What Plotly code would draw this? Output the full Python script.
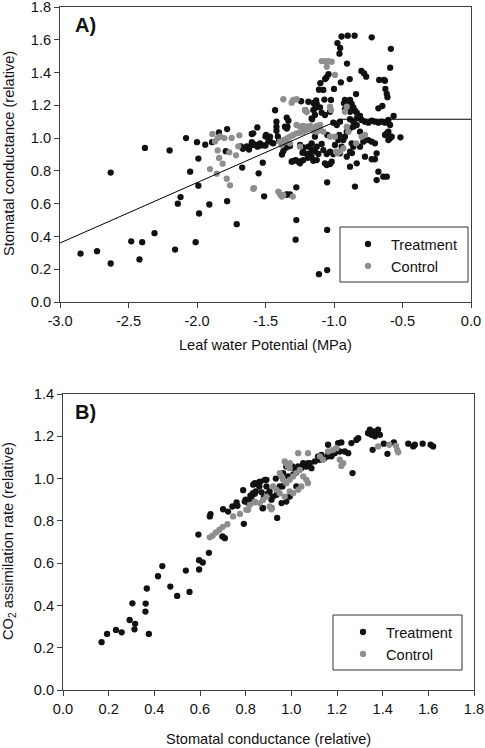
import plotly.graph_objects as go

# ---------------- Panel A: Leaf water potential vs stomatal conductance ----------------
a_treat = [
    (-2.85,0.295),(-2.73,0.31),(-2.63,0.235),(-2.63,0.79),(-2.48,0.37),(-2.40,0.365),(-2.42,0.26),
    (-2.38,0.94),(-2.31,0.42),(-2.20,0.925),(-2.16,0.32),(-2.14,0.60),(-2.12,0.64),(-2.08,1.00),
    (-2.05,0.795),(-2.01,0.365),(-2.00,0.975),(-1.99,0.71),(-1.99,0.875),(-1.985,0.54),(-1.94,0.96),
    (-1.91,0.595),(-1.89,0.975),(-1.84,1.035),(-1.78,1.055),(-1.79,0.92),(-1.78,0.615),(-1.71,0.475),
    (-1.68,0.95),(-1.67,0.82),(-1.665,0.935),(-1.60,1.025),(-1.60,0.975),(-1.62,0.93),(-1.56,1.065),
    (-1.55,0.785),(-1.52,0.85),(-1.51,0.645),(-1.50,1.01),(-1.58,0.96),(-1.54,0.955),(-1.50,0.955),
    (-1.47,0.985),(-1.45,0.97),(-1.43,1.17),(-1.42,1.10),(-1.42,1.07),(-1.42,1.045),(-1.41,1.01),
    (-1.40,0.985),(-1.345,1.125),(-1.34,1.07),(-1.345,0.655),(-1.36,0.94),(-1.38,0.90),(-1.37,0.92),
    (-1.30,0.86),(-1.28,0.865),(-1.275,0.70),(-1.275,0.50),(-1.28,0.38),(-1.24,1.225),(-1.24,0.86),
    (-1.23,0.91),(-1.21,1.17),(-1.19,0.88),(-1.16,1.115),(-1.15,1.215),(-1.14,1.18),(-1.13,1.23),
    (-1.11,1.295),(-1.10,1.335),(-1.11,0.17),(-1.05,0.195),(-1.05,0.44),(-1.05,0.73),(-1.07,1.235),
    (-1.065,1.36),(-1.055,1.37),(-1.04,1.39),(-1.00,1.30),(-0.975,1.58),(-0.96,1.515),(-0.955,1.55),
    (-0.945,1.62),(-0.90,1.625),(-0.85,1.625),(-0.725,1.615),(-0.905,1.455),(-0.95,1.34),(-0.885,1.36),
    (-0.80,1.41),(-0.78,1.395),(-0.765,1.375),(-0.67,1.355),(-0.635,1.355),(-0.625,1.30),(-0.615,1.27),
    (-0.61,1.25),(-0.585,1.545),(-0.59,1.43),(-0.565,1.135),(-0.515,1.005),
    (-0.920,1.233),(-0.907,1.222),(-0.883,1.233),(-0.927,1.212),(-0.912,1.196),(-0.895,1.188),
    (-0.871,1.208),(-0.859,1.188),(-0.847,1.167),(-0.883,1.161),(-0.920,1.175),(-0.834,1.155),
    (-0.810,1.135),(-0.839,1.269),(-1.022,1.233),(-1.078,1.294),(-1.126,1.208),(-1.151,1.171),
    (-1.102,1.188),(-1.090,1.155),(-1.163,1.121),(-1.139,1.141),(-1.066,1.141),(-1.029,1.161),
    (-1.187,1.222),(-1.333,1.106),(-1.358,1.070),(-1.345,1.058),
    (-0.883,1.115),(-0.859,1.100),(-0.834,1.121),(-0.798,1.111),(-0.774,1.100),(-0.749,1.094),
    (-0.725,1.106),(-0.701,1.100),(-0.676,1.094),(-0.652,1.100),(-0.628,1.094),(-0.603,1.111),
    (-0.591,1.080),(-0.859,1.070),(-0.834,1.080),(-0.883,1.060),(-0.956,1.100),(-0.980,1.080),
    (-1.005,1.094),(-0.676,1.182),(-0.647,1.196),(-0.628,1.350),
    (-1.248,0.958),(-1.224,0.944),(-1.187,0.948),(-1.163,0.932),(-1.126,0.948),(-1.090,0.964),
    (-1.321,0.952),(-1.345,0.944),(-1.370,0.968),(-1.224,0.917),(-1.199,0.903),(-1.175,0.907),
    (-1.139,0.917),(-1.114,0.903),(-1.078,0.927),(-1.053,0.903),(-1.029,0.917),(-1.005,0.903),
    (-1.309,0.856),(-1.260,0.856),(-1.248,0.846),(-1.224,0.866),(-1.187,0.887),(-1.163,0.883),
    (-1.151,0.862),(-1.126,0.866),(-1.066,0.846),(-1.053,0.836),(-1.029,0.842),(-1.017,0.856),
    (-0.956,0.907),(-0.944,0.948),(-0.932,0.988),(-0.883,0.917),(-0.871,0.968),(-0.859,0.948),
    (-0.883,0.826),(-0.834,0.846),(-0.786,0.978),(-0.774,0.988),(-0.749,0.988),(-0.725,0.978),
    (-0.701,0.968),(-0.689,0.907),(-0.701,0.871),(-0.725,0.871),(-0.689,0.744),(-0.676,0.795),
    (-0.640,0.765),(-0.615,0.765),(-0.628,1.019),(-0.615,1.029),(-0.603,1.039),(-0.591,0.999),
    (-0.579,1.009),(-0.603,0.988),(-0.847,0.704),(-1.345,0.657),(-1.321,0.657),
    (-1.589,1.029),(-1.496,1.019),(-1.467,1.009),(-1.443,0.968),(-1.540,0.968),(-1.559,0.948),
    (-1.601,0.958),(-0.993,0.958),(-0.968,0.988),(-0.920,1.009),(-0.810,1.039),(-0.810,0.948),
    (-0.774,0.887),(-0.907,0.887),(-0.907,1.039),(-0.961,1.019),(-1.049,1.019),(-1.139,1.009),
    (-1.163,0.968),(-0.869,0.909),(-1.637,0.95),(-1.577,0.96),(-1.516,0.956),(-1.479,0.98),
]
a_ctrl = [
    (-1.905,0.811),(-1.888,1.025),(-1.869,0.98),(-1.85,1.00),(-1.83,1.01),(-1.849,0.925),(-1.839,0.879),
    (-1.856,0.783),(-1.813,0.844),(-1.80,1.00),(-1.783,0.752),(-1.759,0.712),(-1.764,0.913),
    (-1.747,1.001),(-1.715,0.895),(-1.698,0.950),(-1.691,1.017),(-1.589,0.691),
    (-1.090,1.470),(-1.066,1.470),(-1.041,1.470),(-1.017,1.466),(-1.053,1.436),(-0.993,1.385),
    (-1.029,1.192),(-1.022,1.171),(-0.907,1.192),(-0.920,1.161),(-1.297,1.233),(-1.309,1.216),
    (-1.370,1.237),(-1.273,1.237),(-1.212,1.171),(-1.199,1.159),
    (-1.273,1.080),(-1.248,1.070),(-1.224,1.074),(-1.199,1.070),(-1.175,1.074),(-1.151,1.066),
    (-1.126,1.074),(-1.102,1.080),
    (-1.370,0.988),(-1.358,0.978),(-1.345,0.999),(-1.321,1.009),(-1.297,1.019),(-1.273,1.029),
    (-1.248,1.033),(-1.224,1.039),(-1.199,1.050),(-1.175,1.060),(-1.151,1.045),(-1.126,1.039),
    (-1.102,1.050),(-1.078,1.039),(-1.394,0.978),(-1.382,0.958),(-1.321,0.968),(-1.248,0.948),
    (-0.985,0.917),(-0.976,0.907),(-0.956,0.917),(-0.932,0.937),(-0.839,0.968),(-0.774,1.019),
    (-0.798,1.009),(-0.895,1.039),(-0.907,1.070),(-0.993,1.009),(-1.029,1.009),
    (-1.584,0.694),(-1.406,0.673),(-1.394,0.657),(-1.382,0.643),(-1.370,0.653),(-1.301,0.643),
]
a_treat_x = [p[0] for p in a_treat]
a_treat_y = [p[1] for p in a_treat]
a_ctrl_x = [p[0] for p in a_ctrl]
a_ctrl_y = [p[1] for p in a_ctrl]

# broken-stick fit
fit_x = [-3.0, -0.95, 0.0]
fit_y = [0.36, 1.115, 1.115]

a_xticks = [-3.0, -2.5, -2.0, -1.5, -1.0, -0.5, 0.0]
a_xticklabels = ["-3.0", "-2.5", "-2.0", "-1.5", "-1.0", "-0.5", "0.0"]
a_yticks = [0.0, 0.2, 0.4, 0.6, 0.8, 1.0, 1.2, 1.4, 1.6, 1.8]
a_yticklabels = ["0.0", "0.2", "0.4", "0.6", "0.8", "1.0", "1.2", "1.4", "1.6", "1.8"]

# ---------------- Panel B: stomatal conductance vs CO2 assimilation ----------------
b_treat = [
    (0.169,0.226),(0.193,0.265),(0.232,0.284),(0.257,0.273),(0.292,0.331),(0.304,0.410),(0.316,0.313),
    (0.313,0.287),(0.362,0.409),(0.361,0.371),(0.367,0.480),(0.376,0.265),(0.416,0.538),(0.435,0.586),
    (0.470,0.489),(0.500,0.445),(0.538,0.565),(0.554,0.464),(0.593,0.735),(0.596,0.570),(0.596,0.614),
    (0.612,0.603),(0.639,0.649),(0.646,0.832),(0.643,0.821),(0.698,0.726),(0.709,0.718),(0.701,0.855),
    (0.723,0.844),(0.742,0.868),(0.760,0.887),(0.764,0.871),(0.789,0.945),(0.792,0.786),(0.800,0.900),
    (0.811,0.884),(0.821,0.919),(0.833,0.971),(0.840,0.928),(0.850,0.975),(0.859,0.983),(0.86,0.962),
    (0.87,0.935),(0.88,0.912),(0.874,0.860),(0.891,0.994),(0.898,0.93),(0.913,0.900),(0.938,0.814),
    (0.840,0.978),(0.854,0.975),(0.865,0.986),(0.832,0.931),(0.844,0.939),(0.825,0.907),(0.796,0.891),
    (0.884,0.994),(0.891,0.963),(0.905,0.939),(0.920,0.915),(0.935,0.923),(0.913,0.860),(0.876,0.860),
    (0.964,1.026),(0.986,1.010),(0.978,1.057),(1.008,1.049),(1.030,1.057),(1.052,1.073),(1.066,1.057),
    (1.081,1.073),(1.088,1.049),(1.103,1.081),(1.117,1.105),(1.132,1.112),(1.146,1.097),(1.161,1.112),
    (1.176,1.105),(1.190,1.120),(1.205,1.168),(1.219,1.171),(1.212,1.128),(1.234,1.128),(1.249,1.120),
    (1.263,1.168),(1.285,1.183),(1.293,1.191),(1.268,1.026),(1.161,1.160),
    (0.949,0.963),(0.993,0.915),(1.022,0.963),(0.978,0.891),(0.957,0.884),
    (0.932,1.000),(0.961,0.963),(1.005,1.057),(1.008,1.018),(1.023,1.034),(1.045,1.050),
    (1.074,1.073),(1.125,1.089),(1.162,1.105),
    (1.336,1.215),(1.344,1.231),(1.358,1.223),(1.373,1.218),(1.388,1.207),(1.366,1.200),(1.351,1.207),
    (1.337,1.215),(1.380,1.231),(1.356,1.136),(1.405,1.165),(1.421,1.117),(1.449,1.171),(1.512,1.165),
    (1.534,1.152),(1.541,1.160),(1.575,1.165),(1.610,1.160),(1.621,1.152),
]
b_ctrl = [
    (0.643,0.722),(0.655,0.730),(0.670,0.745),(0.685,0.758),(0.700,0.772),(0.720,0.784),(0.745,0.821),
    (0.775,0.833),(0.811,0.852),(0.840,0.887),
    (1.030,1.120),(1.073,1.120),(0.971,1.081),(0.978,1.070),(0.986,1.060),(0.993,1.049),(0.949,1.026),
    (0.957,1.010),(0.964,0.994),(0.978,0.978),(0.993,0.994),(1.008,1.010),(1.022,1.026),(1.037,1.041),
    (1.052,1.010),(1.066,0.994),(1.073,0.978),(0.920,0.963),(0.935,0.947),(0.949,0.931),(0.971,0.915),
    (0.993,0.939),(1.008,0.931),(1.030,0.947),(1.044,0.963),(0.862,0.884),(0.876,0.899),(0.891,0.915),
    (0.905,0.868),(0.913,0.855),(0.803,0.852),(0.818,0.876),(0.840,0.891),(1.212,1.089),(1.227,1.073),
    (1.219,1.060),(1.125,1.105),(1.139,1.089),(1.161,1.128),(1.183,1.136),(1.198,1.144),
    (0.986,1.057),(0.994,1.073),
    (1.380,1.152),(1.429,1.160),(1.458,1.155),(1.464,1.136),(1.468,1.124),
]
b_treat_x = [p[0] for p in b_treat]
b_treat_y = [p[1] for p in b_treat]
b_ctrl_x = [p[0] for p in b_ctrl]
b_ctrl_y = [p[1] for p in b_ctrl]

b_xticks = [0.0, 0.2, 0.4, 0.6, 0.8, 1.0, 1.2, 1.4, 1.6, 1.8]
b_xticklabels = ["0.0", "0.2", "0.4", "0.6", "0.8", "1.0", "1.2", "1.4", "1.6", "1.8"]
b_yticks = [0.0, 0.2, 0.4, 0.6, 0.8, 1.0, 1.2, 1.4]
b_yticklabels = ["0.0", "0.2", "0.4", "0.6", "0.8", "1.0", "1.2", "1.4"]

W, H = 485, 748
BLACK = "#111111"
GRAY = "#8e8e8e"
AXC = "#404040"
FONT = "Liberation Sans, Arial, sans-serif"
FS = 14.6
MS = 6.3

def px_x(p):
    return p / W

def px_y(p):
    return 1 - p / H

fig = go.Figure()
fig.add_trace(go.Scatter(x=a_treat_x, y=a_treat_y, mode="markers", name="Treatment",
                         marker=dict(color=BLACK, size=MS), xaxis="x", yaxis="y", legend="legend"))
fig.add_trace(go.Scatter(x=a_ctrl_x, y=a_ctrl_y, mode="markers", name="Control",
                         marker=dict(color=GRAY, size=MS), xaxis="x", yaxis="y", legend="legend"))
fig.add_trace(go.Scatter(x=fit_x, y=fit_y, mode="lines", showlegend=False,
                         line=dict(color="#000000", width=1), xaxis="x", yaxis="y"))
fig.add_trace(go.Scatter(x=b_treat_x, y=b_treat_y, mode="markers", name="Treatment",
                         marker=dict(color=BLACK, size=MS), xaxis="x2", yaxis="y2", legend="legend2"))
fig.add_trace(go.Scatter(x=b_ctrl_x, y=b_ctrl_y, mode="markers", name="Control",
                         marker=dict(color=GRAY, size=MS), xaxis="x2", yaxis="y2", legend="legend2"))

axis_common = dict(showgrid=False, zeroline=False, showline=True, linecolor=AXC, linewidth=1,
                   mirror=True, ticks="outside", ticklen=5, tickcolor=AXC, tickwidth=1, automargin=False,
                   tickmode="array", ticklabeloverflow="allow",
                   tickfont=dict(family=FONT, size=FS, color="#111111"))

legend_common = dict(xanchor="left", yanchor="top", bgcolor="rgba(0,0,0,0)", borderwidth=0,
                     font=dict(family=FONT, size=FS, color="#111111"), tracegroupgap=0,
                     itemsizing="trace", itemwidth=36)

fig.update_layout(
    width=W, height=H, margin=dict(l=0, r=0, t=0, b=0, autoexpand=False),
    paper_bgcolor="white", plot_bgcolor="white",
    font=dict(family=FONT, size=FS, color="#111111"),
    xaxis=dict(domain=[px_x(60), px_x(471)], range=[-3.0, 0.0],
               tickvals=a_xticks, ticktext=a_xticklabels, anchor="y", **axis_common),
    yaxis=dict(domain=[px_y(302), px_y(7)], range=[0, 1.8],
               tickvals=a_yticks, ticktext=a_yticklabels, anchor="x", **axis_common),
    xaxis2=dict(domain=[px_x(63), px_x(474)], range=[0, 1.8],
                tickvals=b_xticks, ticktext=b_xticklabels, anchor="y2", **axis_common),
    yaxis2=dict(domain=[px_y(690), px_y(394)], range=[0, 1.4],
                tickvals=b_yticks, ticktext=b_yticklabels, anchor="x2", **axis_common),
    legend=dict(x=px_x(345), y=px_y(228), **legend_common),
    legend2=dict(x=px_x(340), y=px_y(616), **legend_common),
    shapes=[
        dict(type="rect", xref="paper", yref="paper", x0=px_x(340), x1=px_x(468), y0=px_y(282), y1=px_y(227),
             line=dict(color="#333333", width=1), fillcolor="rgba(0,0,0,0)"),
        dict(type="rect", xref="paper", yref="paper", x0=px_x(333), x1=px_x(462), y0=px_y(670), y1=px_y(615),
             line=dict(color="#333333", width=1), fillcolor="rgba(0,0,0,0)"),
    ],
    annotations=[
        dict(text="<b>A)</b>", xref="paper", yref="paper", x=px_x(73), y=px_y(12), xanchor="left", yanchor="top",
             showarrow=False, font=dict(family=FONT, size=20, color="#111111")),
        dict(text="<b>B)</b>", xref="paper", yref="paper", x=px_x(73), y=px_y(399), xanchor="left", yanchor="top",
             showarrow=False, font=dict(family=FONT, size=20, color="#111111")),
        dict(text="Leaf water Potential (MPa)", xref="paper", yref="paper", x=px_x(265), y=px_y(345),
             xanchor="center", yanchor="middle", showarrow=False, font=dict(family=FONT, size=FS)),
        dict(text="Stomatal conductance (relative)", xref="paper", yref="paper", x=px_x(268), y=px_y(739),
             xanchor="center", yanchor="middle", showarrow=False, font=dict(family=FONT, size=FS)),
        dict(text="Stomatal conductance (relative)", xref="paper", yref="paper", x=px_x(9), y=px_y(154),
             xanchor="center", yanchor="middle", textangle=-90, showarrow=False, font=dict(family=FONT, size=FS)),
        dict(text="CO<sub>2</sub> assimilation rate (relative)", xref="paper", yref="paper", x=px_x(9), y=px_y(541),
             xanchor="center", yanchor="middle", textangle=-90, showarrow=False, font=dict(family=FONT, size=FS)),
    ],
)

fig.write_html("out.html", config={"displayModeBar": False},
               post_script="document.body.style.margin='0px';document.body.style.overflow='hidden';")
